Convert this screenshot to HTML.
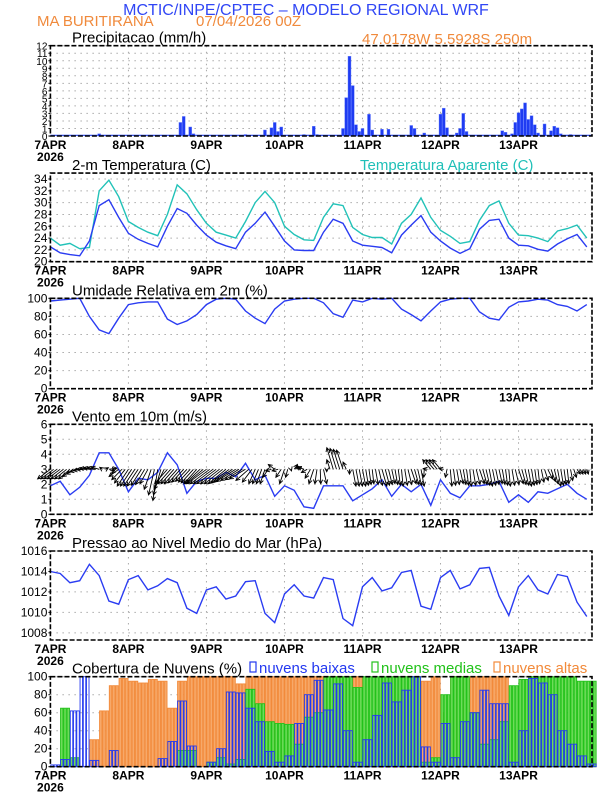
<!DOCTYPE html>
<html><head><meta charset="utf-8"><style>
body{margin:0;background:#fff;width:612px;height:792px;overflow:hidden}
svg{display:block;font-family:"Liberation Sans",sans-serif}
</style></head><body>
<svg id="c" width="612" height="792" viewBox="0 0 612 792">
<text x="306" y="15" text-anchor="middle" font-size="16" fill="#3046f5">MCTIC/INPE/CPTEC – MODELO REGIONAL WRF</text>
<text x="37" y="26" font-size="15" fill="#f08a3c">MA BURITIRANA</text>
<text x="196" y="26" font-size="15" fill="#f08a3c">07/04/2026 00Z</text>
<text x="362" y="44" font-size="15" fill="#f08a3c">47.0178W 5.5928S 250m</text>
</svg>
<script>
// ---- data ----
const days=['7APR','8APR','9APR','10APR','11APR','12APR','13APR'];
const precipHours=[15,40,41,43,44,60,66,68,69,70,71,78,81,82,90,91,92,93,94,95,96,98,99,102,104,111,112,115,120,121,122,125,126,127,128,139,140,142,143,144,145,146,147,148,149,150,152,154,155,156,157,160];
const precipVals=[0.3,1.8,2.6,1.2,0.3,0.2,0.8,1.1,1.8,0.6,1.2,0.2,1.3,0.2,1.0,5.1,10.6,6.7,1.5,0.6,1.0,2.9,0.8,0.9,0.9,1.4,1.0,0.4,2.9,3.7,1.1,0.4,1.0,3.0,0.6,0.7,0.5,0.3,1.8,3.1,3.6,4.4,2.2,2.7,1.5,0.4,1.6,0.7,1.3,1.1,0.3,0.2];
const temp=[22.5,21.5,21.2,21.0,23.5,29.5,30.5,27.5,24.8,23.8,23.1,22.5,26,29.0,28.2,26.2,24.5,23.3,22.7,22.2,25.0,26.5,28.4,26.0,23.5,22.0,21.9,21.9,25,27.2,26.5,23.5,22.8,22.6,22.4,21.5,24.5,26.2,27.8,25.0,23.5,22.3,21.4,22.2,25.5,27.0,27.2,24.0,22.8,22.7,22.1,21.8,23.0,23.9,24.6,22.5];
const tempApp=[24,22.8,23.1,22.2,22.4,32,33.8,31,26.8,25.8,25.0,24.4,28,33.0,31.5,28.8,26.5,25.0,24.5,24.0,26.8,30.0,31.9,30.0,26.0,24.6,23.7,23.6,27.5,29.8,29.5,25.8,24.6,24.1,24.1,23.0,26.5,28.0,30.8,27.5,25.3,24.3,23.1,23.4,27,29.5,30.3,26.5,24.5,24.4,24.0,23.4,25.2,25.6,26.2,24.0];
const humidity=[97,98,99,100,80,65,61,78,93,95,96,96,77,71,75,82,93,99,100,99,86,78,72,88,97,99,100,100,95,83,79,98,96,100,99,100,88,82,75,86,96,99,100,100,85,78,76,90,96,97,99,98,93,91,86,93];
const windSpeed=[1.9,2.2,1.3,1.8,2.6,4.1,4.1,3.0,1.5,2.4,2.3,2.8,4.1,3.3,1.4,2.2,2.4,2.4,2.8,2.5,3.4,2.3,2.6,1.2,1.9,1.6,0.5,0.4,1.9,1.9,1.9,0.9,1.3,1.7,2.3,1.2,2.0,1.5,2.0,0.6,2.3,1.4,1.1,1.9,1.9,2.0,2.2,0.8,1.3,0.8,1.5,1.4,1.7,2.0,1.4,1.0];
const windU=[-0.8,-0.8,-0.7,-0.6,-0.6,-0.5,0.5,-0.6,-0.7,-0.7,-0.5,-0.3,-0.8,-0.8,-0.7,-0.8,-1.2,-1.2,-1.1,-1.2,-1.0,-0.4,-0.3,-0.4,-0.3,0.2,-0.4,-0.3,0.2,-0.4,-0.4,0.2,0.2,0.1,0.3,0.2,0.1,0.3,0.2,-0.5,-0.5,0.1,0.2,0.1,0.3,0.2,0.2,0.1,0.3,0.2,0.1,0.3,0.2,0.1,0.2,0.1];
const windV=[-0.4,-0.4,-0.4,-0.1,0.05,0.1,0.05,-0.3,-0.7,-0.7,-0.6,-1.3,-0.6,-0.6,-0.5,-0.6,-0.6,-0.6,-0.6,-0.5,-0.4,-0.6,-0.6,0.2,-0.6,0.2,0.1,-0.6,-0.6,0.9,0.8,-0.7,-0.7,-0.6,-0.7,-0.6,-0.7,-0.6,-0.7,0.4,0.4,-0.7,-0.6,-0.7,-0.6,-0.7,-0.6,-0.7,-0.6,-0.7,-0.6,-0.4,-0.7,-0.6,-0.2,-0.2];
const pressure=[1014.0,1013.8,1012.9,1013.1,1014.7,1013.6,1011.1,1010.8,1013.2,1013.6,1012.2,1012.6,1013.3,1012.9,1010.4,1009.9,1012.2,1012.5,1011.3,1011.6,1013.0,1013.1,1009.9,1009.0,1011.8,1012.7,1011.6,1011.4,1013.4,1013.2,1009.4,1008.7,1012.5,1013.4,1012.1,1012.4,1013.9,1014.1,1010.6,1010.3,1013.4,1014.1,1012.3,1012.7,1014.3,1014.4,1011.6,1009.7,1012.5,1013.6,1012.2,1011.8,1013.7,1013.5,1011.0,1009.6];
const cloudHigh=[0,0,0,0,30,62,90,98,95,93,97,95,65,95,100,100,100,100,100,92,100,100,100,100,100,100,100,100,100,100,100,100,30,20,15,15,20,90,95,100,60,100,100,100,100,100,100,40,10,5,5,5,5,5,5,5];
const cloudMed=[0,65,10,0,0,0,0,0,0,0,0,0,0,18,18,0,5,10,3,8,86,70,50,48,47,25,55,60,100,100,100,88,100,100,100,100,100,100,5,10,80,100,100,60,25,30,50,90,97,100,100,100,100,100,95,95];
const cloudLow=[2,8,62,100,7,0,18,0,0,0,0,9,28,73,23,0,5,20,83,82,65,50,17,5,12,48,80,96,63,92,40,5,30,57,93,72,85,100,22,5,48,10,50,60,85,70,70,5,40,98,93,80,40,25,12,3];
const precipTicks=[0,1,2,3,4,5,6,7,8,9,10,11,12];
const tempTicks=[20,22,24,26,28,30,32,34];
const pctTicks=[0,20,40,60,80,100];
const windTicks=[0,1,2,3,4,5,6];
const presTicks=[1008,1010,1012,1014,1016];

// ---- helpers ----
const NS='http://www.w3.org/2000/svg';
const svg=document.getElementById('c');
const X0=50.4,X1=592,HMAX=166.6;
const xh=h=>X0+(X1-X0)*h/HMAX;
function mk(tag,attrs,parent){const e=document.createElementNS(NS,tag);for(const k in attrs)e.setAttribute(k,attrs[k]);(parent||svg).appendChild(e);return e;}
function yscale(top,bot,lo,hi){return v=>bot-(v-lo)/(hi-lo)*(bot-top);}

function panel(name,top,bot,lo,hi,ticks,title,tickSize){
  const g=mk('g',{});
  
  
  const y=yscale(top,bot,lo,hi);
  ticks.forEach(t=>{
    const gl=mk('line',{x1:X0,x2:X1,y1:y(t),y2:y(t),stroke:'#aaa','stroke-dasharray':'1.5,4.5','stroke-width':1},g);
    
    
    const tl=mk('text',{x:X0-3,y:y(t)+4,'text-anchor':'end','font-size':tickSize||12},g);
    tl.textContent=t;
    
    
    mk('line',{x1:X0-2,x2:X0,y1:y(t),y2:y(t),stroke:'#000'},g);
  });
  days.forEach((d,i)=>{
    if(i>0){const vl=mk('line',{x1:xh(i*24),x2:xh(i*24),y1:top,y2:bot,stroke:'#aaa','stroke-dasharray':'1.5,4.5'},g);
      
      }
    const dl=mk('text',{x:xh(i*24),y:bot+13,'text-anchor':'middle','font-size':12,'font-weight':'bold'},g);
    dl.textContent=d;
    
    
  });
  const yr=mk('text',{x:X0,y:bot+25,'text-anchor':'middle','font-size':12,'font-weight':'bold'},g);
  yr.textContent='2026';
  
  
  const tt=mk('text',{x:72,y:top-3,'font-size':15},g);
  tt.textContent=title;
  
  
  return {g,y,top,bot};
}
function frame(p){
  const f=mk('rect',{x:X0,y:p.top,width:X1-X0,height:p.bot-p.top,fill:'none',stroke:'#000','stroke-width':1.6,'stroke-dasharray':'5,2'},p.g);
  
  
}
function line(p,vals,color,name){
  const d=vals.map((v,i)=>(i?'L':'M')+xh(i*3).toFixed(1)+','+p.y(v).toFixed(1)).join('');
  const l=mk('path',{d,fill:'none',stroke:color,'stroke-width':1.4},p.g);
  
  
}

// precip
const P1=panel('precip',45.7,136,0,12,precipTicks,'Precipitacao (mm/h)',10);
mk('line',{x1:X0,x2:X1,y1:135.3,y2:135.3,stroke:'#2040f0','stroke-width':1.2},P1.g);
precipHours.forEach((h,i)=>{
  const b=mk('rect',{x:xh(h)-1.5,y:P1.y(precipVals[i]),width:3,height:P1.bot-P1.y(precipVals[i]),fill:'#1f3cf2',stroke:'#6f86ff','stroke-width':0.4},P1.g);
  
  
});
frame(P1);

// temperature
const P2=panel('temperature',173.1,261.7,20,35,tempTicks,'2-m Temperatura (C)');
const app=mk('text',{x:360,y:170,'font-size':15,fill:'#20c0b8'},P2.g);
app.textContent='Temperatura Aparente (C)';


line(P2,tempApp,'#22c2b8','apparent-temp-line');
line(P2,temp,'#2a3cf2','temp-line');
frame(P2);

// humidity
const P3=panel('humidity',298.3,388.7,0,100,pctTicks,'Umidade Relativa em 2m (%)');
line(P3,humidity,'#2a3cf2','humidity-line');
frame(P3);

// wind
const P4=panel('wind',424.3,514.3,0,6,windTicks,'Vento em 10m (m/s)');
line(P4,windSpeed,'#2a3cf2','wind-speed-line');
const y3=P4.y(3);
for(let k=0;k<166;k++){
  const hh=k, i=Math.min(Math.floor(hh/3),windU.length-1), j=Math.min(i+1,windU.length-1), f=(hh-i*3)/3;
  const u=windU[i]*(1-f)+windU[j]*f, v=windV[i]*(1-f)+windV[j]*f;
  const x1=xh(hh), dx=u*16, dy=-v*24, x2=x1+dx, y2=y3+dy;
  const L=Math.hypot(dx,dy)||1, ux=dx/L, uy=dy/L;
  const a=mk('path',{d:`M${x1},${y3}L${x2},${y2}M${x2-4*ux+2*uy},${y2-4*uy-2*ux}L${x2},${y2}L${x2-4*ux-2*uy},${y2-4*uy+2*ux}`,stroke:'#000','stroke-width':0.9,fill:'none'},P4.g);
  
  
}
frame(P4);

// pressure
const P5=panel('pressure',551,640,1007.3,1016,presTicks,'Pressao ao Nivel Medio do Mar (hPa)');
line(P5,pressure,'#2a3cf2','pressure-line');
frame(P5);

// clouds
const P6=panel('clouds',676.7,766.7,0,100,pctTicks,'Cobertura de Nuvens (%)');
function cbars(vals,fill,stroke,name){
  vals.forEach((v,i)=>{
    if(v<=0)return;
    for(let s=0;s<3;s++){
      const x=xh(i*3+s), w=xh(1)-xh(0);
      const b=mk('rect',{x:x+0.4,y:P6.y(v),width:w-0.8,height:P6.bot-P6.y(v),fill,stroke,'stroke-width':0.9},P6.g);
      
      
    }
  });
}
cbars(cloudHigh,'#f7a96a','#f28a3a','cloud-high-bar');
cbars(cloudMed,'#6fdc5a','#22c21a','cloud-medium-bar');
cbars(cloudLow,'none','#2338f0','cloud-low-bar');
frame(P6);
[['nuvens baixas','#2338f0',250],['nuvens medias','#22c21a',372],['nuvens altas','#f28a3a',494]].forEach(([t,c,x])=>{
  const r=mk('rect',{x:x,y:662,width:6,height:10,fill:'none',stroke:c,'stroke-width':1.2});
  
  
  const tx=mk('text',{x:x+9,y:673,'font-size':15,fill:c});
  tx.textContent=t;
  
  
});
</script>
</body></html>
